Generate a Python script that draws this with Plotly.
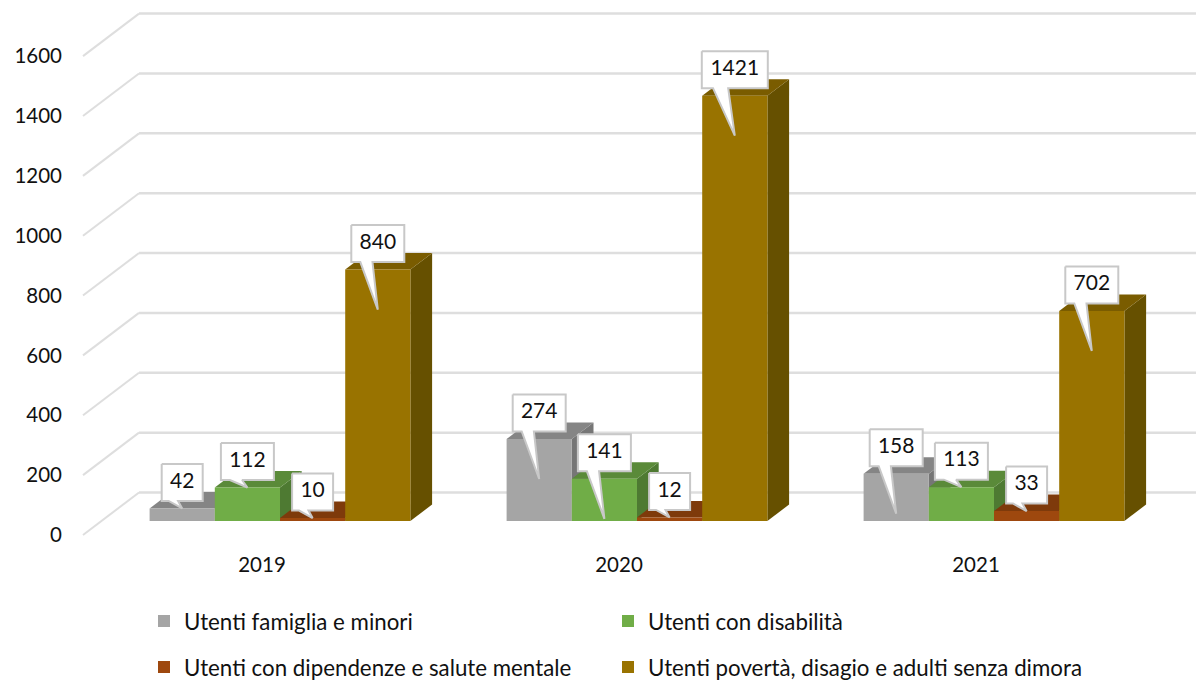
import plotly.graph_objects as go

# ---- data ----
years = [2019, 2020, 2021]
series_names = [
    "Utenti famiglia e minori",
    "Utenti con disabilità",
    "Utenti con dipendenze e salute mentale",
    "Utenti povertà, disagio e adulti senza dimora",
]
famiglia = [42, 274, 158]
disabilita = [112, 141, 113]
dipendenze = [10, 12, 33]
poverta = [840, 1421, 702]
y_ticks = [0, 200, 400, 600, 800, 1000, 1200, 1400, 1600]

# ---- style ----
front_colors = ["#a5a5a5", "#70ad47", "#9e480e", "#997300"]
top_colors = ["#858585", "#5a8a39", "#7e3a0b", "#7a5c00"]
side_colors = ["#767676", "#4e7a32", "#6f320a", "#665000"]
GRID = "#dedede"
FONT = "Lato"
FS = 20.5
LEGEND_FS = 22.3

# ---- pixel scale helpers (only used for the pseudo-3D offsets) ----
W, H = 1196, 680
ML, MB = 66, 130
PY = 0.2993      # px per value unit
PX = 357.0       # px per year
X0_PX, Y0_PX = 262.0, 535.0
dx = lambda p: p / PX
dy = lambda p: p / PY

BAR_W = dx(65.2)
FLOOR = (18.0, 14.0)    # bar front plane shift from the front axis plane
DEPTH = (21.7, 16.5)    # bar depth
WALL = (56.0, 42.5)     # back wall shift


def poly(pts, color):
    path = "M" + " L".join(f"{x},{y}" for x, y in pts) + " Z"
    return dict(type="path", xref="x", yref="y", path=path, fillcolor=color,
                line=dict(width=0), layer="below")


shapes = []
for t in y_ticks:
    x_l, x_b = years[0] + dx(83 - X0_PX), years[0] + dx(83 + WALL[0] - X0_PX)
    x_r = years[-1] + dx(W - X0_PX - 714)
    yb = t + dy(WALL[1])
    shapes.append(dict(type="line", xref="x", yref="y", x0=x_l, y0=t, x1=x_b, y1=yb,
                       line=dict(color=GRID, width=2), layer="below"))
    shapes.append(dict(type="line", xref="x", yref="y", x0=x_b, y0=yb, x1=x_r, y1=yb,
                       line=dict(color=GRID, width=2.5), layer="below"))

all_values = [famiglia, disabilita, dipendenze, poverta]
legend_ids = ["legend", "legend2", "legend3", "legend4"]
fig = go.Figure()
base = dy(FLOOR[1])
label_items = []
for yi, yr in enumerate(years):
    for si, vals in enumerate(all_values):
        v = vals[yi]
        xl = yr + dx(FLOOR[0]) + (si - 2) * BAR_W
        xr = xl + BAR_W
        ddx, ddy = dx(DEPTH[0]), dy(DEPTH[1])
        top = base + v
        shapes.append(poly([(xr, base), (xr + ddx, base + ddy), (xr + ddx, top + ddy), (xr, top)],
                           side_colors[si]))
        shapes.append(poly([(xl, top), (xr, top), (xr + ddx, top + ddy), (xl + ddx, top + ddy)],
                           top_colors[si]))
        label_items.append(((xl + xr) / 2, top, v))

for si, (name, vals) in enumerate(zip(series_names, all_values)):
    fig.add_trace(go.Bar(
        x=[yr + dx(FLOOR[0]) + (si - 1.5) * BAR_W for yr in years],
        y=vals, base=base, width=BAR_W, name=name,
        marker=dict(color=front_colors[si], line=dict(width=0)),
        legend=legend_ids[si],
        showlegend=True,
        hoverinfo="skip",
    ))

# callouts
BOX_H = 37
GAP = 7.5
LONG_TAIL_FROM = 140
LONG_TAIL = 40
for cx, top, v in sorted(label_items, key=lambda a: a[0]):
    n = len(str(v))
    w = {2: 41, 3: 53, 4: 66}[n]
    bottom = top + dy(GAP)
    upper = bottom + dy(BOX_H)
    l, r = cx - dx(w / 2), cx + dx(w / 2)
    tip_y = top - dy(LONG_TAIL) if v > LONG_TAIL_FROM else top
    b0, b1 = l + dx(w) * 0.17, l + dx(w) * 0.40
    xs = [l, r, r, b1, cx, b0, l, l]
    ys = [upper, upper, bottom, bottom, tip_y, bottom, bottom, upper]
    fig.add_trace(go.Scatter(x=xs, y=ys, mode="lines", fill="toself", fillcolor="white",
                             line=dict(color="#c8c8c8", width=2), showlegend=False,
                             hoverinfo="skip"))
    fig.add_trace(go.Scatter(x=[cx], y=[(upper + bottom) / 2], mode="text", text=[str(v)],
                             textposition="middle center",
                             textfont=dict(family=FONT, size=FS + 0.5, color="#111111"),
                             showlegend=False, hoverinfo="skip"))

plot_h = H - MB
legend_common = dict(orientation="h", xanchor="left", yanchor="middle",
                     bgcolor="rgba(0,0,0,0)",
                     font=dict(family=FONT, size=LEGEND_FS, color="#111111"))
col_x = [(144 - ML) / (W - ML), (608 - ML) / (W - ML)]
row_y = [(plot_h - 621) / plot_h, (plot_h - 667) / plot_h]
fig.update_layout(
    width=W, height=H,
    margin=dict(l=ML, r=0, t=0, b=MB, pad=0, autoexpand=False),
    paper_bgcolor="white", plot_bgcolor="white",
    barmode="overlay",
    font=dict(family=FONT, size=FS, color="#111111"),
    shapes=shapes,
    xaxis=dict(range=[years[0] + dx(ML - X0_PX), years[0] + dx(W - X0_PX)],
               tickmode="array", tickvals=years, ticktext=[str(y) for y in years],
               showgrid=False, zeroline=False, showline=False, ticks="", fixedrange=True),
    yaxis=dict(range=[(Y0_PX - plot_h) / PY, Y0_PX / PY],
               tickmode="array", tickvals=y_ticks, ticktext=[str(t) for t in y_ticks],
               showgrid=False, zeroline=False, showline=False, ticks="", fixedrange=True,
               ticklabelstandoff=3),
    legend=dict(x=col_x[0], y=row_y[0], **legend_common),
    legend2=dict(x=col_x[1], y=row_y[0], **legend_common),
    legend3=dict(x=col_x[0], y=row_y[1], **legend_common),
    legend4=dict(x=col_x[1], y=row_y[1], **legend_common),
)

fig.write_html("out.html", post_script="document.body.style.margin='0';",
               config={"displayModeBar": False})
